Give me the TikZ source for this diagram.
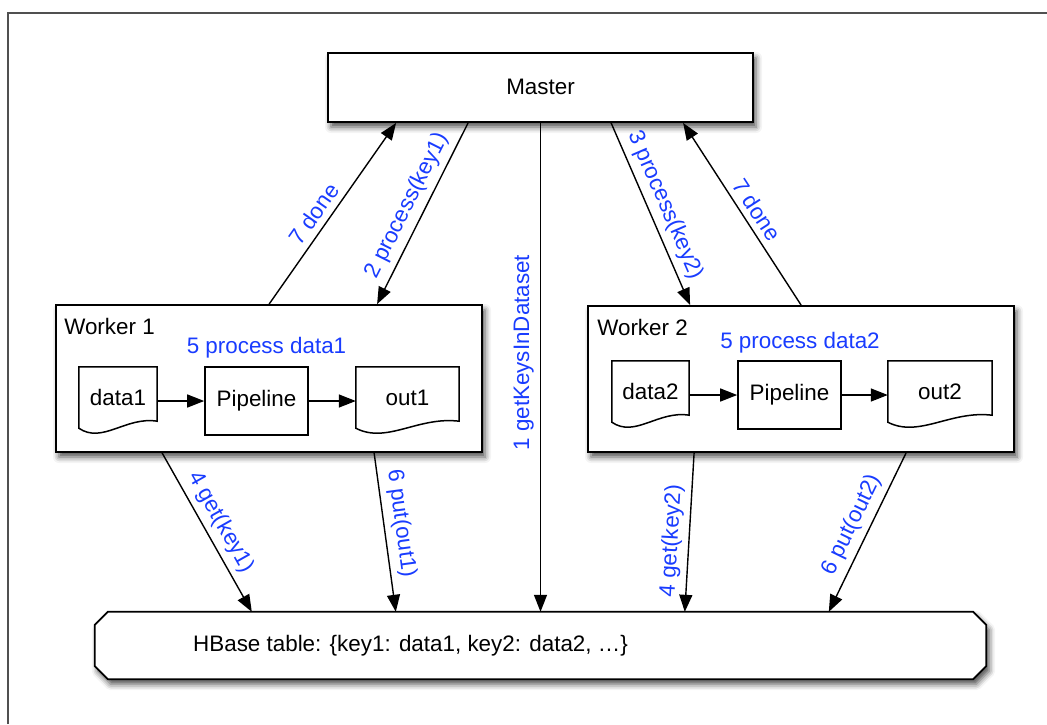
\documentclass[tikz,border=0pt]{standalone}
\usepackage{fontspec}
\setmainfont{Liberation Sans}
\usetikzlibrary{arrows.meta,calc,shadows.blur}
\definecolor{lblblue}{RGB}{25,60,255}
\definecolor{framegray}{RGB}{80,80,80}
% document outline: square top, wavy bottom edge
\newcommand\docoutline[1]{%
  \draw[docline] (#1.south west) -- (#1.north west) -- (#1.north east)
    -- ($(#1.south east)+(0,-7)$)
    .. controls ($(#1.south west)!0.6!(#1.south east)+(0,-12)$)
       and ($(#1.south west)!0.3!(#1.south east)+(0,16)$) .. (#1.south west) -- cycle;}
\begin{document}
\begin{tikzpicture}[x=1pt,y=-1pt,
  font=\fontsize{22.4}{27}\selectfont,
  boxline/.style={draw=black, line width=1.8pt, fill=white},
  shadowed/.style={blur shadow={shadow xshift=3pt, shadow yshift=-5pt,
      shadow blur radius=6pt, shadow opacity=70}},
  mainbox/.style={boxline, shadowed, rectangle, inner sep=0pt},
  docbox/.style={rectangle, inner sep=0pt},
  docline/.style={draw=black, line width=1.5pt, line join=miter},
  pipebox/.style={draw=black, line width=1.6pt, fill=white, rectangle,
      inner sep=0pt, minimum width=103pt, minimum height=68pt},
  conn/.style={draw=black, line width=1.4pt, -{Triangle[length=17pt,width=13pt]}},
  lbl/.style={text=lblblue, inner sep=6pt},
  slbl/.style={lbl, sloped, above},
]
\useasboundingbox (0,0) rectangle (1047,724);
\draw[framegray, line width=1.5pt] (8,724) -- (8,13) -- (1047,13);

% main boxes
\node[mainbox, minimum width=425pt, minimum height=69pt] (master) at (540.5,87.5) {\raisebox{2pt}{Master}};
\node[mainbox, minimum width=426pt, minimum height=147pt] (w1) at (269,378.5) {};
\node[mainbox, minimum width=426pt, minimum height=146pt] (w2) at (801,379) {};

% HBase table (chamfered box)
\node[docbox, minimum width=891pt, minimum height=67pt] (hbase) at (540.5,645.5) {};
\draw[boxline, shadowed]
  ($(hbase.north west)+(13,0)$) -- ($(hbase.north east)+(-13,0)$)
  -- ($(hbase.north east)+(0,13)$) -- ($(hbase.south east)+(0,-13)$)
  -- ($(hbase.south east)+(-13,0)$) -- ($(hbase.south west)+(13,0)$)
  -- ($(hbase.south west)+(0,-13)$) -- ($(hbase.north west)+(0,13)$) -- cycle;
\node[anchor=base west, inner sep=0pt] (hbtext) at (193,651.7)
  {HBase table: \{key1: data1, key2: data2, …\}};

% Worker 1
\node[anchor=base west, inner sep=0pt] (w1title) at ($(w1.north west)+(9,30)$) {Worker 1};
\node[lbl, anchor=base, inner sep=0pt] (w1step) at (266.5,353.3) {5 process data1};
\node[docbox, minimum width=78pt, minimum height=61pt] (d1) at (118,397.5) {data1};
\docoutline{d1}
\node[pipebox] (p1) at (256.5,401) {Pipeline};
\node[docbox, minimum width=103pt, minimum height=61pt] (o1) at (407.5,397.5) {out1};
\docoutline{o1}
\draw[conn] (p1.west -| d1.east) -- (p1.west);
\draw[conn] (p1.east) -- (p1.east -| o1.west);

% Worker 2
\node[anchor=base west, inner sep=0pt] (w2title) at ($(w2.north west)+(10,30)$) {Worker 2};
\node[lbl, anchor=base, inner sep=0pt] (w2step) at (800,348.3) {5 process data2};
\node[docbox, minimum width=77pt, minimum height=61pt] (d2) at (650.5,391.5) {data2};
\docoutline{d2}
\node[pipebox] (p2) at (789.5,395) {Pipeline};
\node[docbox, minimum width=104pt, minimum height=61pt] (o2) at (940,391.5) {out2};
\docoutline{o2}
\draw[conn] (p2.west -| d2.east) -- (p2.west);
\draw[conn] (p2.east) -- (p2.east -| o2.west);

% messages between master and workers
\draw[conn] ($(w1.north west)+(214,0)$) -- node[slbl, pos=0.45] (done1) {7 done}
  ($(master.south west)+(69,0)$);
\draw[conn] ($(master.south west)+(141,0)$) -- node[slbl, pos=0.5] (proc1) {2 process(key1)}
  ($(w1.north west)+(322,0)$);
\draw[conn] (master.south) -- node[lbl, rotate=90, anchor=south, pos=0.47] (keys) {1 getKeysInDataset}
  (hbase.north);
\draw[conn] ($(master.south west)+(284,0)$) -- node[slbl, pos=0.49] (proc2) {3 process(key2)}
  ($(w2.north west)+(103,0)$);
\draw[conn] ($(w2.north west)+(214,0)$) -- node[slbl, pos=0.48] (done2) {7 done}
  ($(master.south west)+(356,0)$);

% table access from the workers
\draw[conn] ($(w1.south west)+(107,0)$) -- node[slbl, pos=0.49] (get1) {4 get(key1)}
  ($(hbase.north west)+(157,0)$);
\draw[conn] ($(w1.south west)+(319,0)$) -- node[slbl, pos=0.46] (put1) {6 put(out1)}
  ($(hbase.north west)+(301,0)$);
\draw[conn] ($(w2.south west)+(107,0)$) -- node[slbl, pos=0.56] (get2) {4 get(key2)}
  ($(hbase.north west)+(590,0)$);
\draw[conn] ($(w2.south west)+(319,0)$) -- node[slbl, pos=0.5] (put2) {6 put(out2)}
  ($(hbase.north west)+(734,0)$);
\end{tikzpicture}
\end{document}
